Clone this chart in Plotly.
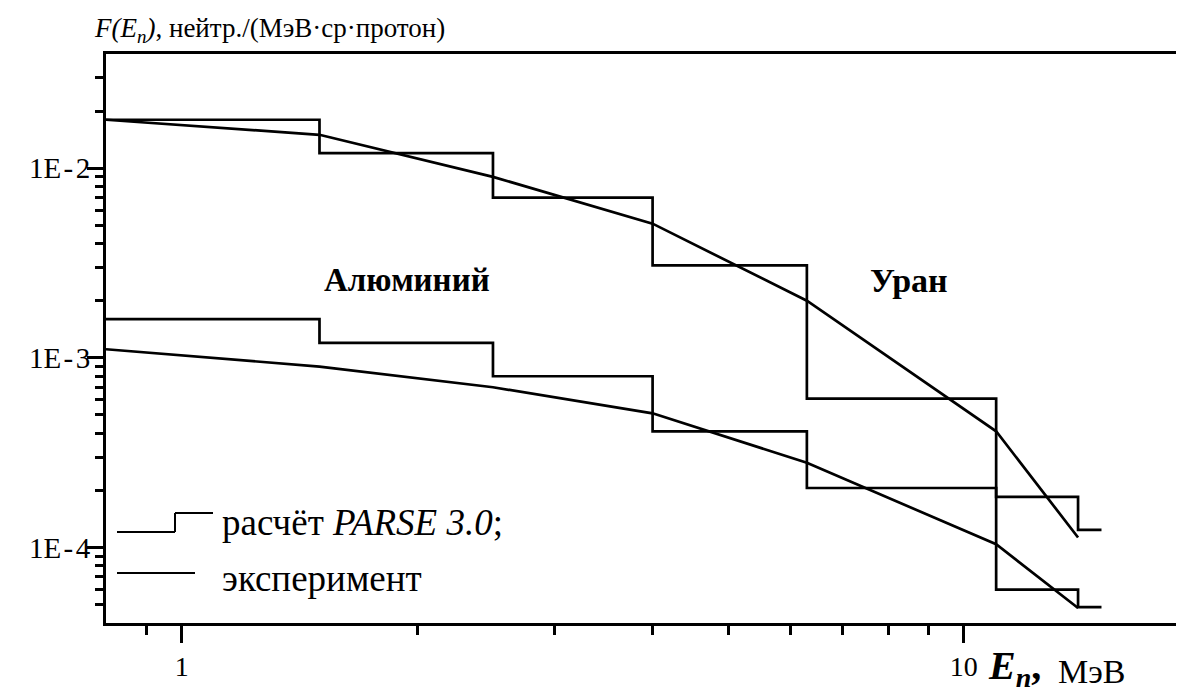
import plotly.graph_objects as go
import math

# ---- data ----
bin_edges = [0.8, 1.5, 2.5, 4.0, 6.3, 11.0, 14.0, 15.0]
uran_calc = [1.8e-2, 1.2e-2, 7.0e-3, 3.07e-3, 6.1e-4, 1.85e-4, 1.24e-4]
alum_calc = [1.6e-3, 1.2e-3, 8.0e-4, 4.1e-4, 2.06e-4, 6.0e-5, 4.85e-5]

exp_energy = [0.8, 1.5, 2.5, 4.0, 6.3, 11.0, 14.0]
uran_exp = [1.8e-2, 1.5e-2, 9.0e-3, 5.1e-3, 2.0e-3, 4.1e-4, 1.13e-4]
alum_exp = [1.11e-3, 9.0e-4, 7.0e-4, 5.1e-4, 2.8e-4, 1.04e-4, 4.8e-5]

x_major = [1, 10]
x_major_text = ["1", "10"]
x_minor = [0.9, 2, 3, 4, 5, 6, 7, 8, 9]
y_major = [1e-4, 1e-3, 1e-2]
y_major_text = ["1E\u200a-\u200a4", "1E\u200a-\u200a3", "1E\u200a-\u200a2"]
y_minor = [k * 10.0 ** p for p in (-5, -4, -3) for k in range(2, 10)] + [2e-2, 3e-2]
y_minor = [v for v in y_minor if v >= 4.1e-5]

FONT = "Liberation Serif"
LW = 2.7

fig = go.Figure()
for vals in (uran_calc, alum_calc):
    fig.add_trace(go.Scatter(x=bin_edges, y=vals + [vals[-1]], mode="lines",
                             line=dict(color="black", width=LW, shape="hv"),
                             showlegend=False, hoverinfo="skip"))
for vals in (uran_exp, alum_exp):
    fig.add_trace(go.Scatter(x=exp_energy, y=vals, mode="lines",
                             line=dict(color="black", width=LW),
                             showlegend=False, hoverinfo="skip"))

# page is offset by the default 8px body margin
OFF = 8
PAGE_W, PAGE_H = 1184, 695
W, H = PAGE_W - OFF, PAGE_H - OFF
PL, PR, PT, PB = 106, 1184, 54, 623          # plot area in page pixels
ml, mt = PL - OFF, PT - OFF
mr = W - (PR - OFF)
mb = H - (PB - OFF)
px_per_dec_x = 782.0
xr0 = math.log10(0.8)
xr1 = xr0 + (PR - PL) / px_per_dec_x

fig.update_layout(
    width=W, height=H,
    margin=dict(l=ml, r=mr, t=mt, b=mb, autoexpand=False),
    paper_bgcolor="white", plot_bgcolor="white",
    font=dict(family=FONT, color="black", size=27),
    xaxis=dict(type="log", range=[xr0, xr1], showgrid=False, zeroline=False,
               showline=True, linecolor="black", linewidth=3, mirror=True,
               ticks="outside", ticklen=17, tickwidth=3, tickcolor="black",
               tickmode="array", tickvals=x_major, ticktext=x_major_text,
               tickfont=dict(family=FONT, size=28), ticklabelstandoff=-1,
               minor=dict(ticks="outside", ticklen=9, tickwidth=2.5, tickcolor="black",
                          tickmode="array", tickvals=x_minor, showgrid=False)),
    yaxis=dict(type="log", range=[math.log10(4e-5), math.log10(4e-2)], showgrid=False,
               zeroline=False, showline=True, linecolor="black", linewidth=3,
               ticks="outside", ticklen=16, tickwidth=3, tickcolor="black",
               tickmode="array", tickvals=y_major, ticktext=y_major_text,
               tickfont=dict(family=FONT, size=29), ticklabelstandoff=-9,
               minor=dict(ticks="outside", ticklen=8, tickwidth=2.5, tickcolor="black",
                          tickmode="array", tickvals=y_minor, showgrid=False)),
    showlegend=False,
)


def PX(xp):
    return (xp - PL) / (PR - PL)


def PY(yp):
    return (PB - yp) / (PB - PT)


def ann(text, xp, yp, size, xanchor="left"):
    return dict(text=text, x=PX(xp), y=PY(yp), xref="paper", yref="paper",
                xanchor=xanchor, yanchor="middle", showarrow=False,
                font=dict(family=FONT, size=size, color="black"))


annotations = [
    ann("<i>F(E<sub>n</sub>)</i>, нейтр./(МэВ·ср·протон)", 92, 30, 27),
    ann("<b>Алюминий</b>", 407, 280, 33, xanchor="center"),
    ann("<b>Уран</b>", 909, 280, 34, xanchor="center"),
    ann("расчёт <i>PARSE 3.0</i>;", 220, 522, 37),
    ann("эксперимент", 220, 578, 37),
    ann("<b><i>E<sub>n</sub></i>,</b>", 986, 668, 40),
    ann("МэВ", 1056, 671, 34),
]
fig.update_layout(annotations=annotations)

shapes = []
for (x0, y0, x1, y1) in [(117, 532, 175, 532), (175, 532, 175, 513), (175, 513, 213, 513),
                         (117, 573, 195, 573)]:
    shapes.append(dict(type="line", xref="paper", yref="paper",
                       x0=PX(x0), y0=PY(y0), x1=PX(x1), y1=PY(y1),
                       line=dict(color="black", width=2)))
fig.update_layout(shapes=shapes)

fig.write_html("out.html")
